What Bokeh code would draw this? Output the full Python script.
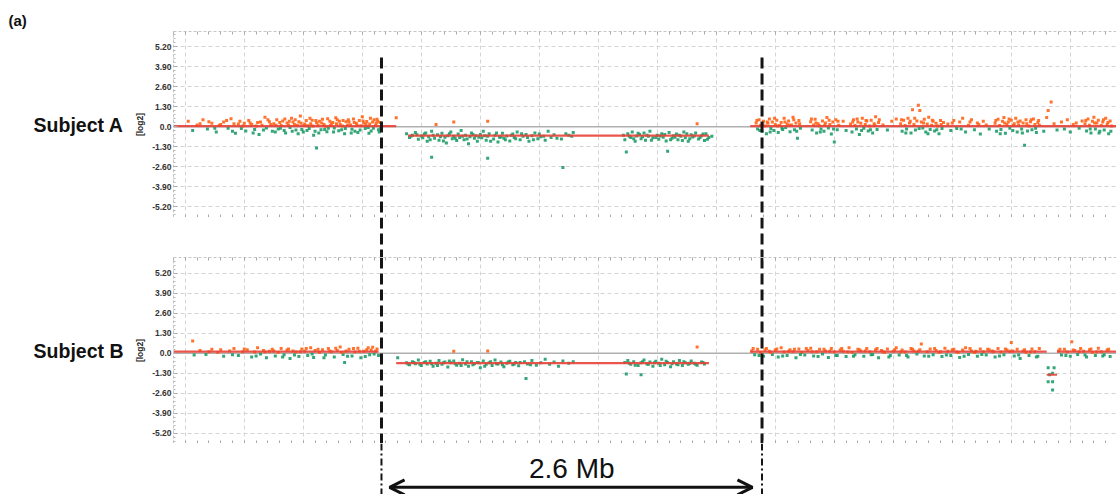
import numpy as np
from bokeh.plotting import figure
from bokeh.models import (Range1d, LinearAxis, FixedTicker, Grid, Label, Arrow, OpenHead, Title)
from bokeh.layouts import column
from bokeh.embed import file_html
from bokeh.resources import INLINE

# ---------------- data (x: position in Mb, y: log2 ratio) ----------------
breakpoints = [1.73, 4.31]           # dashed black boundaries
span_label = "2.6 Mb"
panel_tag = "(a)"
y_ticks = [-5.2, -3.9, -2.6, -1.3, 0.0, 1.3, 2.6, 3.9, 5.2]
y_labels = ["-5.20", "-3.90", "-2.60", "-1.30", "0.0", "1.30", "2.60", "3.90", "5.20"]
subjects = ["Subject A", "Subject B"]

a_left = [(0.42,0.35),(0.45,-0.25),(0.48,0.12),(0.52,0.45),(0.55,-0.15),(0.58,0.22),(0.61,-0.35),(0.63,0.08),
 (0.66,0.30),(0.69,-0.10),(0.71,0.52),(0.73,0.20),(0.74,-0.42),(0.76,0.18),(0.78,-0.12),(0.79,0.05),(0.81,-0.28),
 (0.83,0.40),(0.84,0.25),(0.85,0.15),(0.87,-0.18),(0.88,0.05),(0.89,0.28),(0.90,-0.50),(0.92,0.10),(0.93,-0.22),
 (0.94,0.62),(0.95,-0.08),(0.97,0.33),(0.98,0.15),(0.99,-0.30),(1.00,0.20),(1.02,0.45),(1.03,-0.15),(1.04,0.28),
 (1.05,0.08),(1.06,0.38),(1.07,-0.25),(1.08,-0.40),(1.09,0.25),(1.10,0.12),(1.11,-0.05),(1.12,0.55),(1.13,0.30),
 (1.14,0.14),(1.15,-0.22),(1.16,0.10),(1.17,0.32),(1.18,0.70),(1.19,-0.18),(1.20,-0.35),(1.21,0.18),(1.22,0.40),
 (1.23,0.06),(1.24,-0.12),(1.25,0.20),(1.26,0.42),(1.27,-0.55),(1.28,-0.30),(1.29,0.26),(1.29,-1.38),(1.30,0.12),
 (1.31,0.35),(1.32,-0.20),(1.33,0.48),(1.34,0.15),(1.35,0.03),(1.36,-0.32),(1.37,-0.10),(1.38,0.36),(1.39,0.20),
 (1.40,0.28),(1.41,-0.08),(1.42,0.58),(1.43,0.45),(1.44,-0.26),(1.45,0.15),(1.46,-0.20),(1.47,0.40),(1.48,-0.45),
 (1.49,0.32),(1.50,0.09),(1.51,0.30),(1.52,0.12),(1.53,-0.16),(1.54,0.50),(1.55,-0.30),(1.56,0.22),(1.57,-0.38),
 (1.58,0.40),(1.59,0.07),(1.60,0.65),(1.61,0.25),(1.62,-0.12),(1.63,0.34),(1.64,-0.05),(1.65,0.18),(1.66,-0.28),
 (1.67,0.30),(1.68,0.45),(1.69,0.10),(1.70,0.48),(1.71,-0.20),(1.715,-0.35),(1.72,0.28),(1.83,0.58)]
a_left2 = [(0.50,0.20),(0.56,0.32),(0.60,-0.10),(0.64,0.15),(0.68,0.40),(0.72,-0.30),(0.77,0.35),(0.80,0.22),
 (0.86,-0.40),(0.91,0.30),(0.96,0.45),(1.01,-0.35),(1.015,0.10),(1.045,-0.10),(1.075,0.50),(1.105,0.35),
 (1.125,-0.30),(1.145,0.45),(1.165,-0.45),(1.185,0.22),(1.205,0.08),(1.225,-0.25),(1.245,0.55),(1.265,0.05),
 (1.285,0.40),(1.305,-0.40),(1.325,0.25),(1.345,-0.18),(1.365,0.52),(1.385,0.08),(1.405,-0.35),(1.425,0.20),
 (1.445,0.35),(1.465,0.05),(1.485,-0.12),(1.505,0.45),(1.525,-0.40),(1.545,0.28),(1.565,0.10),(1.585,-0.22),
 (1.605,0.38),(1.625,0.15),(1.645,-0.42),(1.655,0.55),(1.675,-0.10),(1.695,0.25),(1.705,0.35),(1.725,-0.08)]

a_del = [(1.90,-0.45),(1.92,-0.70),(1.94,-0.55),(1.96,-0.38),(1.98,-0.82),(2.00,-0.60),(2.02,-0.48),(2.04,-0.95),
 (2.05,-0.65),(2.07,-0.30),(2.07,-1.98),(2.09,-0.75),(2.10,0.15),(2.11,-0.52),(2.12,-0.88),(2.14,-0.42),(2.16,-0.68),
 (2.17,-1.05),(2.18,-0.58),(2.20,-0.35),(2.21,-0.78),(2.22,0.30),(2.22,-0.62),(2.24,-0.90),(2.25,-0.48),(2.26,-0.70),
 (2.27,-0.25),(2.29,-0.85),(2.30,-0.55),(2.32,-1.10),(2.33,-0.65),(2.34,-0.40),(2.36,-0.75),(2.37,-0.58),(2.38,-0.95),
 (2.40,-0.50),(2.41,-0.72),(2.42,-0.30),(2.44,-0.88),(2.45,0.35),(2.45,-2.05),(2.45,-0.62),(2.46,-0.45),(2.49,-0.80),
 (2.50,-0.55),(2.52,-1.00),(2.53,-0.68),(2.55,-0.42),(2.56,-0.75),(2.58,-0.60),(2.60,-0.92),(2.62,-0.48),(2.63,-0.70),
 (2.65,-0.35),(2.67,-0.85),(2.69,-0.62),(2.71,-0.50),(2.73,-0.95),(2.75,-0.58),(2.77,-0.40),(2.79,-0.78),(2.81,-0.65),
 (2.84,-0.88),(2.86,-0.30),(2.88,-0.70),(2.90,-0.52),(2.95,-0.80),(2.96,-2.65),(2.98,-0.45),(3.02,-0.62),(3.03,-0.38),
 (3.37,-0.55),(3.38,-0.85),(3.39,-1.65),(3.40,-0.45),(3.42,-0.70),(3.43,-0.35),(3.45,-0.95),(3.46,-0.60),(3.48,-0.50),
 (3.49,-0.78),(3.51,-0.40),(3.52,-0.88),(3.54,-0.62),(3.55,-0.30),(3.57,-0.72),(3.60,-0.55),(3.61,-0.82),(3.63,-0.45),
 (3.64,-0.68),(3.66,-0.92),(3.67,-1.60),(3.68,-0.38),(3.70,-0.75),(3.71,-0.58),(3.73,-0.48),(3.74,-0.85),(3.76,-0.62),
 (3.78,-0.35),(3.79,-0.72),(3.81,-0.95),(3.83,-0.52),(3.84,-0.66),(3.86,-0.40),(3.87,0.20),(3.88,-0.80),(3.90,-0.58),
 (3.92,-0.90),(3.93,-0.45),(3.95,-0.70),(3.97,-0.62)]
a_del2 = [(1.93,-0.62),(1.97,-0.52),(2.01,-0.72),(2.03,-0.40),(2.06,-0.85),(2.08,-0.55),(2.13,-0.65),(2.15,-0.92),
 (2.19,-0.45),(2.23,-0.75),(2.28,-0.62),(2.31,-0.80),(2.35,-0.50),(2.39,-0.68),(2.43,-0.58),(2.47,-0.95),(2.51,-0.40),
 (2.54,-0.66),(2.57,-0.85),(2.61,-0.55),(2.64,-0.78),(2.68,-0.45),(2.72,-0.70),(2.76,-0.85),(2.80,-0.48),(2.83,-0.62),
 (2.92,-0.75),(3.00,-0.55),(3.41,-0.62),(3.44,-0.78),(3.47,-0.42),(3.50,-0.65),(3.53,-0.55),(3.56,-0.88),(3.59,-0.70),
 (3.62,-0.60),(3.65,-0.50),(3.69,-0.85),(3.72,-0.68),(3.75,-0.55),(3.77,-0.90),(3.80,-0.45),(3.82,-0.78),(3.85,-0.60),
 (3.89,-0.70),(3.91,-0.48),(3.94,-0.82)]

a_right = [(4.27,0.25),(4.28,-0.15),(4.29,0.45),(4.30,0.10),(4.31,-0.30),(4.32,0.35),(4.33,0.05),(4.34,-0.45),
 (4.35,0.22),(4.36,0.50),(4.37,-0.12),(4.38,0.30),(4.39,-0.25),(4.40,0.15),(4.41,0.42),(4.42,-0.38),(4.43,0.08),
 (4.44,0.28),(4.45,-0.18),(4.46,0.55),(4.47,-0.05),(4.48,0.18),(4.49,0.38),(4.50,-0.32),(4.51,0.12),(4.52,0.62),
 (4.53,-0.20),(4.54,0.25),(4.55,-0.75),(4.56,0.40),(4.57,-0.10),
 (4.64,0.32),(4.65,-0.22),(4.66,0.12),(4.67,0.48),(4.68,-0.40),(4.69,0.20),(4.70,0.06),(4.71,-0.15),(4.72,0.38),
 (4.73,-0.30),(4.74,0.25),(4.75,0.60),(4.76,-0.08),(4.77,0.15),(4.78,-0.48),(4.79,0.30),(4.80,-1.00),(4.81,0.45),
 (4.82,-0.20),(4.83,0.10),(4.86,0.35),(4.88,-0.25),
 (4.91,0.18),(4.92,-0.35),(4.93,0.45),(4.94,0.08),(4.95,-0.15),(4.96,0.30),(4.97,-0.50),(4.98,0.22),(4.99,0.55),
 (5.00,-0.10),(5.01,0.14),(5.02,0.38),(5.03,-0.28),(5.04,0.05),(5.05,0.42),(5.06,-0.40),(5.07,0.20),(5.08,0.65),
 (5.09,-0.18),(5.10,0.28),(5.13,0.12),(5.16,-0.22),(5.19,0.35),(5.22,0.50),
 (5.25,0.20),(5.26,-0.30),(5.27,0.42),(5.28,0.08),(5.29,-0.15),(5.30,0.55),(5.31,0.25),(5.32,-0.40),(5.33,1.10),
 (5.34,0.15),(5.35,-0.22),(5.36,0.38),(5.37,1.40),(5.38,1.05),(5.39,0.30),(5.40,-0.08),(5.41,0.48),(5.42,-0.35),
 (5.43,0.18),(5.44,0.62),(5.45,-0.18),(5.46,0.10),(5.47,0.35),(5.48,-0.28),(5.49,0.22),(5.50,0.05),(5.51,-0.45),
 (5.52,0.40),(5.53,-0.12),(5.54,0.28),
 (5.57,0.18),(5.59,-0.25),(5.61,0.40),(5.63,-0.12),(5.65,0.30),(5.67,0.55),(5.69,-0.35),(5.71,0.10),(5.73,0.45),
 (5.75,-0.20),(5.77,0.25),(5.79,-0.48),(5.81,0.35),(5.83,0.12),(5.85,-0.15),
 (5.89,0.22),(5.90,-0.30),(5.91,0.48),(5.92,0.08),(5.93,-0.18),(5.94,0.35),(5.95,0.60),(5.96,-0.42),(5.97,0.15),
 (5.98,0.30),(5.99,-0.10),(6.00,0.42),(6.01,-0.25),(6.02,0.20),(6.03,0.55),(6.04,-0.35),(6.05,0.12),(6.06,0.38),
 (6.07,-0.15),(6.08,0.25),(6.09,-1.20),(6.10,0.45),(6.11,-0.28),(6.12,0.05),(6.13,0.32),(6.14,-0.20),(6.15,0.50),
 (6.16,0.15),(6.17,-0.38),(6.18,0.28),(6.19,0.10),
 (6.22,-0.30),(6.24,0.60),(6.25,1.05),(6.27,1.60),(6.29,0.20),(6.31,-0.22),
 (6.34,0.30),(6.36,-0.15),(6.38,0.45),(6.40,-0.35),(6.42,0.15),(6.44,0.25),(6.46,-0.10),(6.48,0.38),
 (6.50,0.20),(6.51,-0.28),(6.52,0.50),(6.53,0.10),(6.54,-0.40),(6.55,0.35),(6.56,0.62),(6.57,-0.15),(6.58,0.25),
 (6.59,0.42),(6.60,-0.30),(6.61,0.08),(6.62,0.30),(6.63,-0.22),(6.64,0.55),(6.65,0.15),(6.66,-0.45),(6.67,0.38),
 (6.68,0.05)]
a_right2 = [(4.275,0.40),(4.295,-0.25),(4.315,0.18),(4.345,0.30),(4.365,-0.35),(4.395,0.55),(4.415,0.05),
 (4.445,-0.10),(4.465,0.30),(4.495,0.10),(4.525,0.45),(4.545,-0.30),(4.565,0.20),(4.645,0.50),(4.675,0.25),
 (4.705,-0.35),(4.735,0.10),(4.765,0.42),(4.795,-0.15),(4.825,0.35),(4.925,0.30),(4.955,0.50),(4.985,-0.25),
 (5.015,0.40),(5.045,-0.20),(5.075,0.10),(5.105,0.45),(5.255,0.45),(5.285,-0.40),(5.315,0.35),(5.345,0.55),
 (5.375,-0.12),(5.405,0.25),(5.435,-0.45),(5.465,0.42),(5.495,-0.20),(5.525,0.15),(5.60,0.25),(5.66,-0.15),
 (5.72,0.30),(5.78,0.15),(5.895,0.40),(5.925,-0.45),(5.955,0.25),(5.985,0.50),(6.015,0.10),(6.045,0.30),
 (6.075,-0.40),(6.105,0.20),(6.135,0.45),(6.165,-0.10),(6.185,0.40),(6.505,0.40),(6.535,-0.15),(6.565,0.25),
 (6.595,-0.40),(6.625,0.45),(6.655,0.28),(6.675,-0.30)]

b_left = [(0.45,0.80),(0.46,-0.12),(0.50,0.18),(0.54,-0.08),(0.58,0.25),(0.62,0.05),(0.66,-0.20),(0.70,0.15),
 (0.73,0.30),(0.76,-0.15),(0.79,0.10),(0.82,0.22),(0.85,-0.25),(0.87,0.08),(0.89,0.35),(0.91,-0.05),(0.93,0.18),
 (0.95,-0.30),(0.97,0.12),(0.99,0.25),(1.01,-0.18),(1.03,0.05),(1.05,0.30),(1.07,-0.10),(1.09,0.20),(1.11,-0.35),
 (1.13,0.15),(1.15,0.08),(1.17,-0.22),(1.19,0.28),(1.21,0.12),(1.23,-0.15),(1.25,0.35),(1.27,-0.28),(1.28,0.18),
 (1.31,0.05),(1.33,0.22),(1.35,-0.12),(1.37,0.30),(1.39,0.10),(1.41,-0.25),(1.43,0.18),(1.45,0.40),(1.47,-0.08),
 (1.48,-0.60),(1.49,0.15),(1.51,0.25),(1.53,-0.18),(1.55,0.08),(1.57,0.32),(1.59,-0.30),(1.61,0.12),(1.63,0.22),
 (1.65,-0.10),(1.67,0.38),(1.69,0.15),(1.71,-0.15)]
b_left2 = [(0.56,0.10),(0.64,0.22),(0.72,-0.10),(0.80,0.28),(0.88,-0.18),(0.94,0.08),(1.00,0.15),(1.06,-0.25),
 (1.10,0.28),(1.14,-0.12),(1.18,0.10),(1.22,0.30),(1.26,-0.05),(1.30,0.25),(1.34,-0.30),(1.38,0.15),(1.42,0.32),
 (1.46,0.05),(1.50,-0.20),(1.54,0.30),(1.58,0.12),(1.62,-0.22),(1.64,0.35),(1.66,0.20),(1.68,-0.05),(1.70,0.28)]

b_del = [(1.84,-0.30),(1.90,-0.62),(1.92,-0.75),(1.94,-0.55),(1.96,-0.68),(1.98,-0.45),(2.00,-0.80),(2.02,-0.60),
 (2.04,-0.70),(2.06,-0.52),(2.08,-0.85),(2.10,-0.65),(2.12,-0.48),(2.14,-0.72),(2.16,-0.58),(2.18,-0.90),(2.20,-0.62),
 (2.22,0.12),(2.22,-0.50),(2.24,-0.78),(2.26,-0.66),(2.28,-0.42),(2.30,-0.70),(2.32,-0.85),(2.34,-0.55),(2.36,-0.68),
 (2.38,-0.60),(2.40,-0.95),(2.42,-0.50),(2.44,-0.72),(2.45,0.15),(2.46,-0.62),(2.48,-0.80),(2.50,-0.45),(2.52,-0.70),
 (2.54,-0.58),(2.56,-0.88),(2.58,-0.65),(2.60,-0.52),(2.62,-0.75),(2.64,-0.60),(2.66,-0.82),(2.70,-0.55),(2.71,-1.65),
 (2.72,-0.70),(2.75,-0.48),(2.78,-0.78),(2.81,-0.62),(2.84,-0.40),(2.87,-0.72),(2.90,-0.58),(2.93,-0.85),(2.96,-0.50),
 (3.00,-0.65),(3.03,-0.55),
 (3.38,-0.60),(3.39,-1.35),(3.40,-0.48),(3.42,-0.72),(3.44,-0.55),(3.47,-0.80),(3.49,-1.40),(3.49,-0.62),(3.51,-0.45),
 (3.53,-0.70),(3.55,-0.58),(3.57,-0.85),(3.59,-0.52),(3.61,-0.66),(3.63,-0.40),(3.65,-0.75),(3.67,-0.60),(3.69,-0.88),
 (3.71,-0.55),(3.73,-0.70),(3.75,-0.48),(3.77,-0.80),(3.79,-0.62),(3.81,-0.72),(3.83,-0.50),(3.85,-0.65),(3.87,0.40),
 (3.87,-0.78),(3.90,-0.58),(3.92,-0.70)]
b_del2 = [(1.91,-0.70),(1.95,-0.60),(1.99,-0.72),(2.03,-0.55),(2.07,-0.68),(2.11,-0.80),(2.15,-0.62),(2.19,-0.50),
 (2.23,-0.68),(2.27,-0.80),(2.31,-0.55),(2.35,-0.75),(2.39,-0.62),(2.43,-0.85),(2.47,-0.55),(2.51,-0.68),(2.55,-0.75),
 (2.59,-0.58),(2.63,-0.70),(2.67,-0.60),(2.74,-0.75),(3.41,-0.65),(3.45,-0.78),(3.50,-0.55),(3.54,-0.72),(3.58,-0.62),
 (3.62,-0.80),(3.66,-0.52),(3.70,-0.68),(3.74,-0.75),(3.78,-0.55),(3.82,-0.65),(3.86,-0.72),(3.91,-0.60)]

b_right = [(4.24,0.15),(4.26,-0.10),(4.28,0.25),(4.30,0.05),(4.32,-0.20),(4.34,0.30),(4.36,0.12),(4.38,-0.08),
 (4.40,0.20),(4.42,-0.25),(4.44,0.35),(4.46,0.08),(4.48,-0.15),(4.50,0.22),(4.52,0.10),(4.54,-0.30),(4.56,0.28),
 (4.58,0.05),(4.60,-0.12),(4.62,0.18),(4.64,0.32),(4.66,-0.18),(4.68,0.10),(4.70,0.25),(4.72,-0.05),(4.74,0.15),
 (4.76,-0.28),(4.78,0.30),(4.80,0.08),(4.82,-0.15),(4.84,0.20),(4.86,0.12),(4.88,-0.22),(4.90,0.35),(4.92,0.05),
 (4.94,-0.10),(4.96,0.25),(4.98,0.15),(5.00,-0.20),(5.02,0.30),(5.04,0.10),(5.06,-0.08),(5.08,0.22),(5.10,-0.30),
 (5.12,0.18),(5.14,0.05),(5.16,0.28),(5.18,-0.15),(5.20,0.12),(5.22,0.35),(5.24,-0.12),(5.26,0.20),(5.28,0.08),
 (5.30,-0.25),(5.32,0.30),(5.34,0.15),(5.36,-0.05),(5.38,0.22),(5.39,0.60),(5.41,-0.18),(5.43,0.10),(5.45,0.28),
 (5.47,-0.10),(5.49,0.18),(5.51,0.05),(5.53,-0.22),(5.55,0.32),(5.57,0.12),(5.59,-0.15),(5.61,0.25),(5.63,0.08),
 (5.65,-0.28),(5.67,0.20),(5.69,0.35),(5.71,-0.08),(5.73,0.15),(5.75,0.05),(5.77,-0.20),(5.79,0.28),(5.81,0.10),
 (5.83,-0.12),(5.85,0.22),(5.87,0.15),(5.89,-0.25),(5.91,0.30),(5.93,0.08),(5.95,-0.10),(5.97,0.20),(5.99,0.12),
 (6.00,0.70),(6.02,-0.18),(6.04,0.25),(6.06,-0.35),(6.08,0.15),(6.10,0.05),(6.12,-0.15),(6.14,0.28),(6.16,0.10),
 (6.18,-0.20),(6.19,0.30),
 (6.25,-0.95),(6.29,-0.95),(6.26,-1.40),(6.28,-1.30),(6.25,-1.85),(6.28,-1.85),(6.28,-2.40),
 (6.32,0.15),(6.34,-0.12),(6.36,0.25),(6.38,0.08),(6.40,-0.20),(6.41,0.75),(6.43,0.18),(6.45,-0.08),(6.47,0.30),
 (6.49,0.12),(6.51,-0.25),(6.53,0.22),(6.55,0.05),(6.57,-0.15),(6.59,0.32),(6.61,0.10),(6.63,-0.10),(6.65,0.20),
 (6.67,-0.22)]
b_right2 = [(4.25,0.30),(4.29,-0.15),(4.33,0.20),(4.37,0.05),(4.41,0.28),(4.45,-0.18),(4.49,0.12),(4.53,0.25),
 (4.57,-0.08),(4.61,0.30),(4.65,0.10),(4.69,-0.22),(4.73,0.25),(4.77,0.12),(4.81,-0.15),(4.85,0.30),(4.89,0.08),
 (4.93,-0.20),(4.97,0.22),(5.01,0.15),(5.05,-0.10),(5.09,0.30),(5.13,0.10),(5.17,-0.25),(5.21,0.22),(5.25,0.08),
 (5.29,-0.15),(5.33,0.25),(5.37,0.12),(5.44,-0.20),(5.48,0.30),(5.52,0.10),(5.56,-0.12),(5.60,0.22),(5.64,0.05),
 (5.68,-0.20),(5.72,0.30),(5.76,0.12),(5.80,-0.08),(5.84,0.25),(5.88,0.10),(5.92,-0.18),(5.96,0.28),(6.01,0.15),
 (6.05,-0.12),(6.09,0.22),(6.13,0.08),(6.17,-0.25),(6.33,0.25),(6.37,-0.15),(6.42,0.20),(6.46,0.10),(6.50,-0.12),
 (6.54,0.28),(6.58,0.08),(6.62,-0.18),(6.66,0.25)]

# segment means: (start Mb, end Mb, log2 level)
a_segments = [(0.30, 1.83, 0.04), (1.91, 3.95, -0.58), (4.23, 6.75, 0.04)]
b_segments = [(0.30, 1.71, 0.10), (1.83, 3.95, -0.65), (4.23, 6.24, 0.10), (6.24, 6.31, -1.40), (6.31, 6.75, 0.10)]

# ---------------- styling ----------------
W = 1116
LEFT = 173
X0, X1 = 0.32, 0.32 + (W - LEFT) / 147.5
xr = Range1d(X0, X1)
ORANGE = "#ff6418"
GREEN = "#1f9c68"
RED = "#e8423a"
BASE = "#b0b0b0"
GRIDC = "#d4d4d4"
FRAMEC = "#c6c6c6"
FONT = "Liberation Sans"

x_grid = [round(v, 2) for v in np.arange(0.4, 6.9, 0.4)]
x_minor = [round(v, 2) for v in np.arange(0.32, 6.9, 0.08)]
y_minor = [round(v, 2) for v in np.arange(-5.72, 6.2, 0.26)]


def common_fig(height, yr, top):
    p = figure(width=W, height=height, x_range=xr, y_range=Range1d(*yr),
               x_axis_type=None, y_axis_type=None, tools="", toolbar_location=None,
               output_backend="svg", min_border_left=LEFT, min_border_right=0,
               min_border_top=top, min_border_bottom=0, outline_line_color=None,
               background_fill_color="white", border_fill_color="white")
    return p


def frame_axis():
    return LinearAxis(ticker=FixedTicker(ticks=[], minor_ticks=x_minor),
                      axis_line_color=FRAMEC, axis_line_dash="3 2",
                      minor_tick_in=3, minor_tick_out=0, minor_tick_line_color="#a8a8a8",
                      major_tick_in=0, major_tick_out=0, major_label_standoff=0)


def panel(height, yr, top, pts, segs, name, dash_top):
    p = common_fig(height, yr, top)
    p.add_layout(Grid(dimension=0, ticker=FixedTicker(ticks=x_grid),
                      grid_line_color=GRIDC, grid_line_dash="4 3"))
    p.add_layout(Grid(dimension=1, ticker=FixedTicker(ticks=y_ticks),
                      grid_line_color=GRIDC, grid_line_dash="4 3"))
    yax = LinearAxis(ticker=FixedTicker(ticks=y_ticks, minor_ticks=y_minor),
                     major_label_overrides={t: l for t, l in zip(y_ticks, y_labels)},
                     axis_label="[log2]", axis_label_text_font=FONT,
                     axis_label_text_font_size="8.5px", axis_label_text_font_style="bold",
                     axis_label_text_color="#222222", axis_label_standoff=4,
                     major_label_text_font=FONT, major_label_text_font_size="8.5px",
                     major_label_text_font_style="bold", major_label_text_color="#333333",
                     major_label_standoff=2,
                     axis_line_color=FRAMEC, axis_line_dash="3 2",
                     major_tick_in=4, major_tick_out=0, major_tick_line_color="#a8a8a8",
                     minor_tick_in=2, minor_tick_out=0, minor_tick_line_color="#b8b8b8")
    p.add_layout(yax, "left")
    sax = LinearAxis(ticker=FixedTicker(ticks=[]), axis_label=name,
                     axis_label_orientation="horizontal", axis_label_text_font=FONT,
                     axis_label_text_font_size="19.5px", axis_label_text_font_style="bold",
                     axis_label_text_color="#111111", axis_label_standoff=9,
                     axis_line_color=None, major_tick_in=0, major_tick_out=0,
                     minor_tick_in=0, minor_tick_out=0, major_label_standoff=0)
    p.add_layout(sax, "left")
    p.add_layout(frame_axis(), "below")
    p.add_layout(frame_axis(), "above")

    p.segment(x0=[X0], y0=[0], x1=[X1], y1=[0], line_color=BASE, line_width=1.6)

    xs = np.array([q[0] for q in pts]); ys = np.array([q[1] for q in pts])
    cols = np.where(ys >= 0, ORANGE, GREEN)
    p.scatter(xs, ys, marker="square", size=3, fill_color=cols, line_color=None, fill_alpha=0.9)

    sx0 = [s[0] for s in segs]; sx1 = [s[1] for s in segs]; sy = [s[2] for s in segs]
    p.segment(x0=sx0, y0=sy, x1=sx1, y1=sy, line_color=RED, line_width=2.2, line_alpha=0.9)

    p.segment(x0=breakpoints, y0=[dash_top] * 2, x1=breakpoints, y1=[yr[0]] * 2,
              line_color="#151515", line_width=3, line_dash="11 5")
    return p


YA = (-5.90, 6.19)
YB = (-5.87, 6.22)
all_a = a_left + a_left2 + a_del + a_del2 + a_right + a_right2
all_b = b_left + b_left2 + b_del + b_del2 + b_right + b_right2

pa = panel(217, YA, 31, all_a, a_segments, subjects[0], 4.5)
pa.add_layout(Title(text=panel_tag, align="left", offset=8 - LEFT, standoff=6,
                    text_font=FONT, text_font_size="15px", text_font_style="bold",
                    text_color="#111111"), "above")

gap = common_fig(40, (0, 1), 0)
gap.segment(x0=breakpoints, y0=[1, 1], x1=breakpoints, y1=[0, 0],
            line_color="#151515", line_width=3, line_dash="11 5")

pb = panel(186, YB, 0, all_b, b_segments, subjects[1], YB[1])

bot = common_fig(51, (0, 1), 0)
bot.segment(x0=breakpoints, y0=[1, 1], x1=breakpoints, y1=[0, 0],
            line_color="#151515", line_width=2, line_dash="7 3 2 3")
bot.add_layout(Arrow(x_start=breakpoints[0] + 0.055, x_end=breakpoints[1] - 0.065,
                     y_start=0.14, y_end=0.14, line_width=3, line_color="#111111",
                     start=OpenHead(size=15, line_width=3, line_color="#111111"),
                     end=OpenHead(size=15, line_width=3, line_color="#111111")))
bot.add_layout(Label(x=(breakpoints[0] + breakpoints[1]) / 2, y=0.51, text=span_label,
                     text_align="center", text_baseline="middle", text_font=FONT,
                     text_font_size="28px", text_color="#111111"))

layout = column(pa, gap, pb, bot, spacing=0)
open("out.html", "w").write(file_html(layout, INLINE))
